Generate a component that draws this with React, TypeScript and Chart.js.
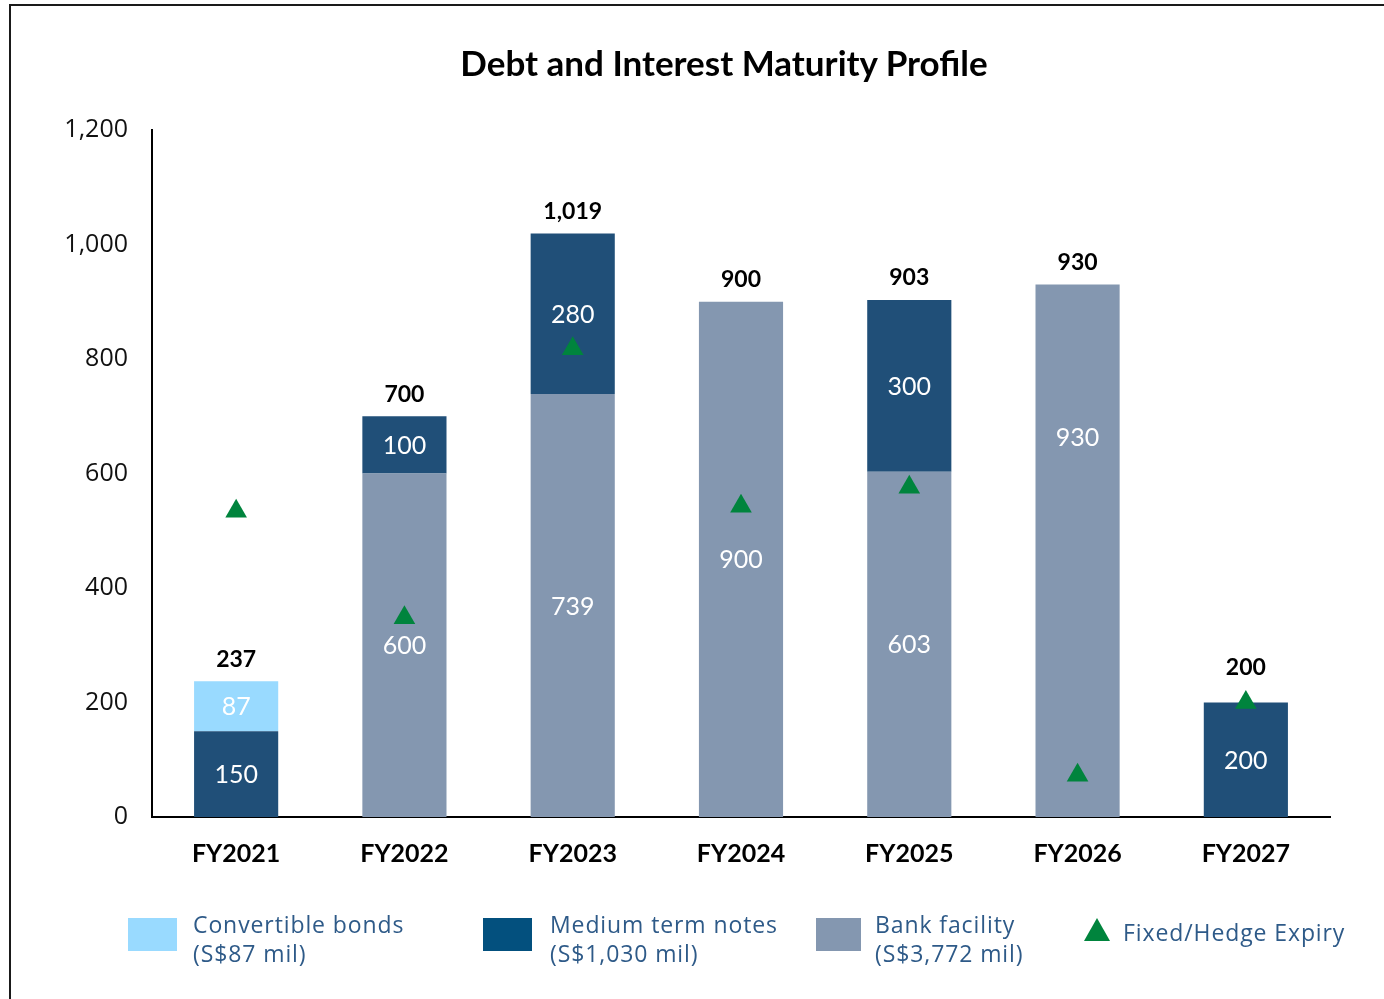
import React, { useEffect, useRef } from "react";
import { Chart, registerables } from "chart.js";

Chart.register(...registerables);

// ---- data ----
const categories = ["FY2021", "FY2022", "FY2023", "FY2024", "FY2025", "FY2026", "FY2027"];
const bankFacility = [0, 600, 739, 900, 603, 930, 0];
const mediumTermNotes = [150, 100, 280, 0, 300, 0, 200];
const convertibleBonds = [87, 0, 0, 0, 0, 0, 0];
const hedgeExpiry = [534, 348, 818, 543, 576, 73, 200];
const yTickValues = [0, 200, 400, 600, 800, 1000, 1200];

const titleText = "Debt and Interest Maturity Profile";
const legendConvertible = ["Convertible bonds", "(S$87 mil)"];
const legendMTN = ["Medium term notes", "(S$1,030 mil)"];
const legendBank = ["Bank facility", "(S$3,772 mil)"];
const legendHedge = "Fixed/Hedge Expiry";

// ---- styles ----
const COLOR_CONV = "#99DAFF";
const COLOR_MTN = "#204F78";
const COLOR_MTN_LEGEND = "#03507E";
const COLOR_BANK = "#8497B0";
const COLOR_HEDGE = "#00843D";
const COLOR_LEGEND_TEXT = "#2E5A88";
const TRI_R = 12.5;
// vertical position of in-bar labels as fraction of the segment height (from its base)
const bankLabelFrac = [0.5, 0.5, 0.5, 0.5, 0.5, 0.714, 0.5];

const labelPlugin = {
  id: "barLabels",
  afterDatasetsDraw(chart: any) {
    const ctx = chart.ctx;
    const yScale = chart.scales.y;
    ctx.save();
    ctx.textAlign = "center";
    ctx.textBaseline = "middle";
    chart.data.datasets.forEach((ds: any, di: number) => {
      if (ds.type === "line") return;
      const meta = chart.getDatasetMeta(di);
      meta.data.forEach((el: any, i: number) => {
        const v = ds.data[i];
        if (!v) return;
        const p = el.getProps(["x", "y", "base"], true);
        const frac = ds.labelFrac ? ds.labelFrac[i] : 0.5;
        ctx.font = "400 25px Lato";
        ctx.fillStyle = "#FFFFFF";
        ctx.fillText(String(v), p.x, p.base - (p.base - p.y) * frac + 1);
      });
    });
    // totals
    const barMeta = chart.getDatasetMeta(1);
    categories.forEach((_, i) => {
      const total = bankFacility[i] + mediumTermNotes[i] + convertibleBonds[i];
      const x = barMeta.data[i].x;
      const topPx = yScale.getPixelForValue(total);
      const hc = yScale.getPixelForValue(hedgeExpiry[i]);
      const anchor = Math.abs(hc - topPx) < 20 ? Math.min(topPx, hc - TRI_R) : topPx;
      ctx.font = "700 23px Lato";
      ctx.fillStyle = "#000000";
      ctx.fillText(total.toLocaleString("en-US"), x, anchor - 22);
    });
    ctx.restore();
  },
};

export default function App() {
  const canvasRef = useRef<HTMLCanvasElement | null>(null);

  useEffect(() => {
    const canvas = canvasRef.current;
    if (!canvas) return;
    const chart = new Chart(canvas, {
      type: "bar",
      data: {
        labels: categories,
        datasets: [
          {
            type: "line",
            label: legendHedge,
            data: hedgeExpiry,
            showLine: false,
            pointStyle: "triangle",
            pointRadius: TRI_R,
            pointHoverRadius: TRI_R,
            pointBackgroundColor: COLOR_HEDGE,
            pointBorderColor: COLOR_HEDGE,
            pointBorderWidth: 0,
            backgroundColor: COLOR_HEDGE,
            borderColor: COLOR_HEDGE,
            stack: "hedge",
            order: 0,
          } as any,
          {
            type: "bar",
            label: "Bank facility",
            data: bankFacility,
            backgroundColor: COLOR_BANK,
            stack: "debt",
            order: 1,
            labelFrac: bankLabelFrac,
          } as any,
          {
            type: "bar",
            label: "Medium term notes",
            data: mediumTermNotes,
            backgroundColor: COLOR_MTN,
            stack: "debt",
            order: 1,
          } as any,
          {
            type: "bar",
            label: "Convertible bonds",
            data: convertibleBonds,
            backgroundColor: COLOR_CONV,
            stack: "debt",
            order: 1,
          } as any,
        ],
      },
      options: {
        responsive: false,
        animation: false,
        events: [],
        layout: { padding: { left: 0, right: 54, top: 130, bottom: 122 } },
        datasets: { bar: { barPercentage: 0.5, categoryPercentage: 1 } } as any,
        plugins: {
          legend: { display: false },
          title: { display: false },
          tooltip: { enabled: false },
        },
        scales: {
          x: {
            stacked: true,
            grid: { display: false, drawTicks: false },
            border: { display: true, color: "#000000", width: 2 },
            ticks: {
              padding: 22,
              color: "#000000",
              font: { family: "Lato", size: 25, weight: "bold" },
            },
            afterFit(scale: any) {
              scale.height = 60;
            },
          },
          y: {
            stacked: true,
            min: 0,
            max: 1200,
            afterBuildTicks(scale: any) {
              scale.ticks = yTickValues.map((v) => ({ value: v }));
            },
            grid: { display: false, drawTicks: false },
            border: { display: true, color: "#000000", width: 2 },
            ticks: {
              padding: 24,
              color: "#111111",
              font: { family: "Open Sans", size: 25 },
              callback: (v: any) => Number(v).toLocaleString("en-US"),
            },
            afterFit(scale: any) {
              scale.width = 152;
            },
          },
        },
      },
      plugins: [labelPlugin],
    } as any);
    return () => chart.destroy();
  }, []);

  const legendText: React.CSSProperties = {
    position: "absolute",
    fontFamily: "'Open Sans', sans-serif",
    fontSize: 23,
    lineHeight: "29px",
    letterSpacing: "0.9px",
    color: COLOR_LEGEND_TEXT,
    whiteSpace: "nowrap",
  };

  return (
    <div
      style={{
        position: "absolute",
        left: 0,
        top: 0,
        width: 1384,
        height: 999,
        background: "#FFFFFF",
        overflow: "hidden",
      }}
    >
      <div
        style={{
          position: "absolute",
          left: 9,
          top: 4,
          width: 1375,
          height: 995,
          boxSizing: "border-box",
          borderLeft: "2px solid #1A1A1A",
          borderTop: "2px solid #1A1A1A",
        }}
      />
      <canvas
        ref={canvasRef}
        width={1384}
        height={999}
        style={{ position: "absolute", left: 0, top: 0, width: 1384, height: 999 }}
      />
      <div
        style={{
          position: "absolute",
          left: 324,
          width: 800,
          top: 41,
          textAlign: "center",
          fontFamily: "Lato, sans-serif",
          fontWeight: 700,
          fontSize: 35,
          lineHeight: "42px",
          color: "#000000",
        }}
      >
        {titleText}
      </div>

      {/* legend */}
      <div style={{ position: "absolute", left: 128, top: 918, width: 49, height: 33, background: COLOR_CONV }} />
      <div style={{ ...legendText, left: 193, top: 910 }}>
        {legendConvertible[0]}
        <br />
        {legendConvertible[1]}
      </div>
      <div style={{ position: "absolute", left: 483, top: 918, width: 49, height: 33, background: COLOR_MTN_LEGEND }} />
      <div style={{ ...legendText, left: 550, top: 910 }}>
        {legendMTN[0]}
        <br />
        {legendMTN[1]}
      </div>
      <div style={{ position: "absolute", left: 816, top: 918, width: 45, height: 33, background: COLOR_BANK }} />
      <div style={{ ...legendText, left: 875, top: 910 }}>
        {legendBank[0]}
        <br />
        {legendBank[1]}
      </div>
      <div
        style={{
          position: "absolute",
          left: 1084,
          top: 918,
          width: 26,
          height: 23,
          background: COLOR_HEDGE,
          clipPath: "polygon(50% 0%, 100% 100%, 0% 100%)",
        }}
      />
      <div style={{ ...legendText, left: 1123, top: 918 }}>{legendHedge}</div>
    </div>
  );
}
